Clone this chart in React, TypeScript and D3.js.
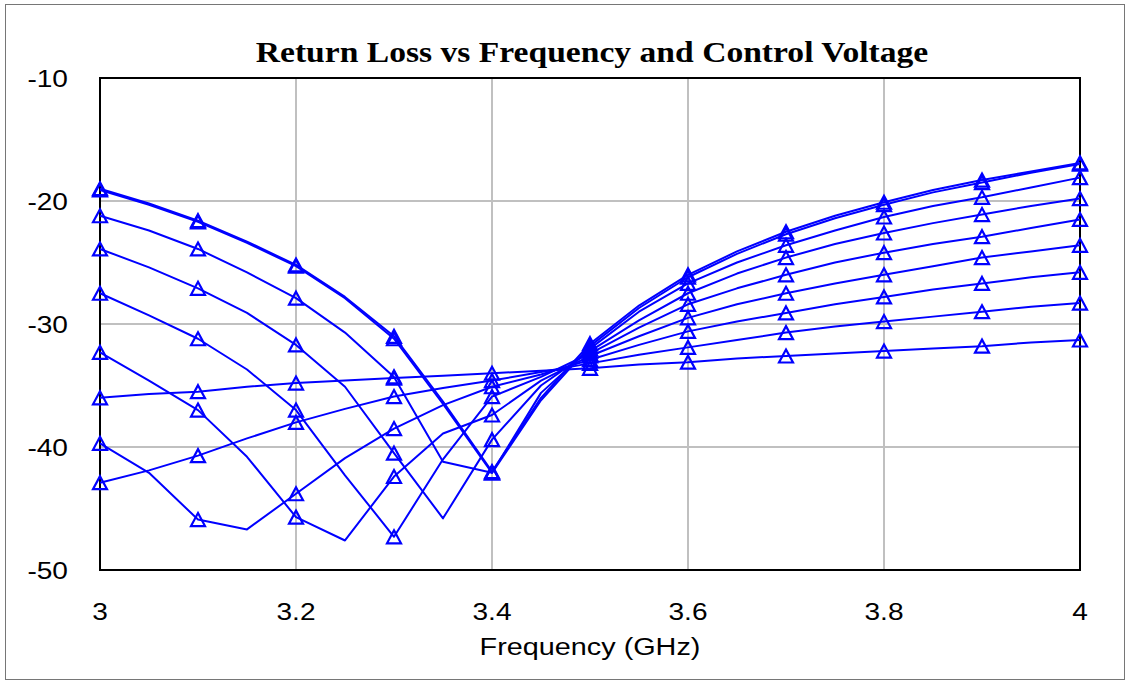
import React from 'react';
import * as d3 from 'd3';

const freqs = [3.0, 3.05, 3.1, 3.15, 3.2, 3.25, 3.3, 3.35, 3.4, 3.45, 3.5, 3.55, 3.6, 3.65, 3.7, 3.75, 3.8, 3.85, 3.9, 3.95, 4.0];

const s1a = [-19.0, -20.2, -21.6, -23.3, -25.2, -27.8, -31.0, -36.3, -42.0, -36.0, -31.6, -28.5, -26.0, -24.1, -22.5, -21.2, -20.1, -19.1, -18.3, -17.6, -16.9];
const s1b = [-19.1, -20.3, -21.7, -23.4, -25.3, -27.9, -31.2, -36.5, -42.1, -36.2, -31.8, -28.7, -26.2, -24.3, -22.7, -21.4, -20.3, -19.3, -18.5, -17.7, -17.0];
const s2 = [-21.2, -22.4, -23.9, -25.8, -27.9, -30.7, -34.3, -41.2, -42.1, -35.6, -32.0, -29.0, -26.7, -25.0, -23.6, -22.4, -21.3, -20.4, -19.7, -18.9, -18.1];
const s3 = [-23.9, -25.4, -27.1, -29.1, -31.7, -35.1, -40.5, -45.8, -39.4, -35.0, -32.2, -29.7, -27.5, -25.9, -24.6, -23.5, -22.6, -21.8, -21.1, -20.4, -19.8];
const s4 = [-27.5, -29.3, -31.2, -33.7, -37.0, -42.3, -47.3, -41.0, -35.9, -34.3, -32.4, -30.3, -28.4, -27.1, -26.0, -25.0, -24.2, -23.5, -22.9, -22.2, -21.5];
const s5 = [-32.3, -34.6, -37.0, -40.8, -45.7, -47.6, -42.4, -38.9, -37.4, -34.6, -32.6, -31.0, -29.5, -28.4, -27.5, -26.7, -26.0, -25.3, -24.6, -24.1, -23.6];
const s6 = [-39.7, -42.1, -45.9, -46.7, -43.8, -40.9, -38.5, -36.6, -35.1, -34.1, -32.9, -31.7, -30.6, -29.8, -29.1, -28.4, -27.8, -27.2, -26.7, -26.2, -25.8];
const s7 = [-42.9, -41.9, -40.7, -39.3, -38.0, -36.9, -35.9, -35.2, -34.6, -33.9, -33.2, -32.5, -31.9, -31.3, -30.7, -30.2, -29.8, -29.4, -29.0, -28.6, -28.3];
const s8 = [-36.0, -35.7, -35.5, -35.1, -34.8, -34.6, -34.4, -34.2, -34.0, -33.8, -33.6, -33.3, -33.1, -32.8, -32.6, -32.4, -32.2, -32.0, -31.8, -31.5, -31.3];

const seriesList = [s8, s7, s6, s5, s4, s3, s2, s1b, s1a];

const xTicks = [3, 3.2, 3.4, 3.6, 3.8, 4];
const xTickLabels = ['3', '3.2', '3.4', '3.6', '3.8', '4'];
const yTicks = [-10, -20, -30, -40, -50];
const yTickLabels = ['-10', '-20', '-30', '-40', '-50'];
const markerFreqs = [3.0, 3.1, 3.2, 3.3, 3.4, 3.5, 3.6, 3.7, 3.8, 3.9, 4.0];

const title = 'Return Loss vs Frequency and Control Voltage';
const xTitle = 'Frequency (GHz)';

const W = 1130;
const H = 685;
const L = 100, R = 1080, T = 78, B = 570;
const BLUE = '#0000ff';
const SANS = "'Liberation Sans', Arial, sans-serif";
const SERIF = "'Liberation Serif', 'Times New Roman', serif";

export default function App() {
  const x = d3.scaleLinear().domain([3, 4]).range([L, R]);
  const y = d3.scaleLinear().domain([-50, -10]).range([B, T]);
  const line = d3.line<number>().x((_, i) => x(freqs[i])).y((d) => y(d));
  const tri = (cx: number, cy: number) => {
    const w = 7, h = 6.5;
    return `M${cx},${cy - h}L${cx + w},${cy + h}L${cx - w},${cy + h}Z`;
  };
  const lbl = (tx: number, ty: number, s: string, anchor: string, key: string, sx = 1.17) => (
    <text key={key} transform={`translate(${tx},${ty}) scale(${sx},1)`} textAnchor={anchor} fontFamily={SANS} fontSize={24}>{s}</text>
  );
  return (
    <div style={{ position: 'absolute', left: 0, top: 0 }}>
      <svg width={W} height={H} style={{ display: 'block', background: '#fff' }}>
        <rect x={5.5} y={4.5} width={1119} height={675} fill="#fff" stroke="#767676" strokeWidth={1} />
        <text transform={`translate(592,62) scale(1.12,1)`} textAnchor="middle" fontFamily={SERIF} fontWeight="bold" fontSize={30}>{title}</text>
        {xTicks.slice(1, -1).map((t) => (
          <line key={'gx' + t} x1={x(t)} x2={x(t)} y1={T} y2={B} stroke="#c0c0c0" strokeWidth={2} />
        ))}
        {yTicks.slice(1, -1).map((t) => (
          <line key={'gy' + t} x1={L} x2={R} y1={y(t)} y2={y(t)} stroke="#c0c0c0" strokeWidth={2} />
        ))}
        <rect x={L} y={T} width={R - L} height={B - T} fill="none" stroke="#000" strokeWidth={2} />
        {yTicks.map((t, i) => lbl(68, y(t) + 9, yTickLabels[i], 'end', 'yl' + t))}
        {xTicks.map((t, i) => lbl(x(t), 620, xTickLabels[i], 'middle', 'xl' + t))}
        {lbl(590, 655, xTitle, 'middle', 'xt', 1.2)}
        {seriesList.map((s, si) => (
          <g key={'s' + si}>
            <path d={line(s) || ''} fill="none" stroke={BLUE} strokeWidth={2} strokeLinejoin="round" />
            {freqs.map((f, i) =>
              markerFreqs.some((m) => Math.abs(m - f) < 1e-6) ? (
                <path key={i} d={tri(x(f), y(s[i]))} fill="none" stroke={BLUE} strokeWidth={2.2} />
              ) : null
            )}
          </g>
        ))}
      </svg>
    </div>
  );
}
